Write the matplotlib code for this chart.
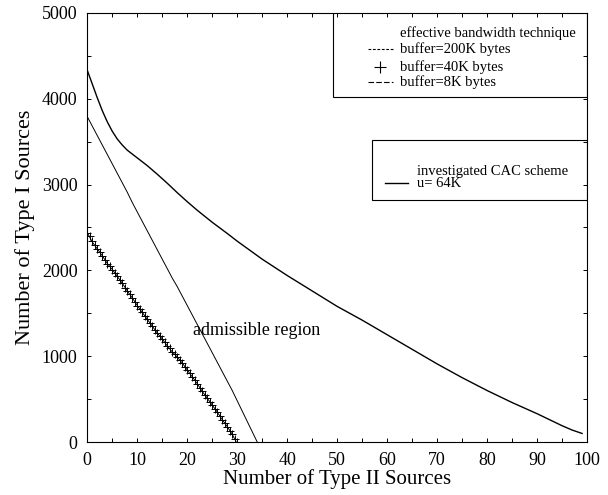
import matplotlib
matplotlib.use("Agg")
import matplotlib.pyplot as plt
from matplotlib.lines import Line2D
from matplotlib.patches import Rectangle
from matplotlib.ticker import MultipleLocator

plt.rcParams['font.family'] = ['Liberation Serif', 'DejaVu Serif']

# investigated CAC scheme, u = 64K
cac_x = [0, 1, 2, 3, 4, 5, 6, 7, 8, 10, 12, 14, 16, 18, 20, 22, 25, 28, 30,
         35, 40, 45, 50, 55, 60, 65, 70, 75, 80, 85, 90, 95, 97, 99]
cac_y = [4330, 4170, 4010, 3860, 3730, 3620, 3530, 3460, 3400, 3310, 3220,
         3120, 3015, 2905, 2800, 2700, 2560, 2430, 2340, 2130, 1940, 1760,
         1580, 1420, 1250, 1080, 910, 750, 600, 460, 330, 190, 140, 100]

# effective bandwidth, buffer = 200K bytes
eb200_x = list(range(0, 35))
eb200_y = [3790, 3680, 3570, 3460, 3350, 3240, 3130, 3020, 2910, 2790, 2680,
           2570, 2460, 2350, 2240, 2130, 2020, 1910, 1810, 1700, 1590, 1480,
           1370, 1260, 1150, 1040, 930, 820, 710, 600, 480, 360, 240, 120, 0]

# effective bandwidth, buffer = 8K bytes
eb8_x = list(range(0, 30)) + [29.8]
eb8_y = [2440, 2330, 2250, 2170, 2080, 2010, 1930, 1850, 1760, 1680, 1590,
         1510, 1430, 1350, 1270, 1200, 1120, 1050, 990, 920, 840, 760, 680,
         590, 510, 430, 350, 260, 180, 90, 0]

# effective bandwidth, buffer = 40K bytes
eb40_x = [i * 0.5 for i in range(60)]
eb40_y = [2440, 2400, 2340, 2290, 2250, 2210, 2170, 2120, 2080, 2050,
          2010, 1970, 1930, 1890, 1850, 1800, 1760, 1720, 1680, 1630,
          1590, 1550, 1510, 1470, 1430, 1390, 1350, 1310, 1270, 1240,
          1200, 1160, 1120, 1090, 1050, 1020, 990, 950, 920, 880,
          840, 800, 760, 720, 680, 630, 590, 550, 510, 470,
          430, 390, 350, 300, 260, 220, 180, 130, 90, 40]

fig = plt.figure(figsize=(6.08, 4.95), dpi=100)
ax = fig.add_axes([0.1436, 0.107, 0.822, 0.867])

ax.plot(cac_x, cac_y, color='black', lw=1.0)
ax.plot(eb200_x, eb200_y, color='black', lw=0.7)
ax.plot(eb8_x, eb8_y, color='black', lw=0.7)
ax.plot(eb40_x, eb40_y, ls='none', marker='+', ms=6, mew=0.7, color='black')

ax.set_xlim(0, 100)
ax.set_ylim(0, 5000)
ax.xaxis.set_major_locator(MultipleLocator(10))
ax.xaxis.set_minor_locator(MultipleLocator(5))
ax.yaxis.set_major_locator(MultipleLocator(1000))
ax.yaxis.set_minor_locator(MultipleLocator(500))
ax.tick_params(which='both', direction='in', top=True, right=True,
               length=3, width=0.7, labelsize=13, pad=7)
for s in ax.spines.values():
    s.set_linewidth(0.8)

ax.set_xlabel('Number of Type II Sources', fontsize=15, labelpad=0)
ax.set_ylabel('Number of Type I Sources', fontsize=16, labelpad=5)

ax.text(21.2, 1304, 'admissible region', fontsize=13, va='center', ha='left')

# legend boxes
tr = ax.transAxes
ax.add_patch(Rectangle((0.491, 0.8036), 0.509, 0.2, transform=tr,
                       fill=False, lw=0.8, ec='black'))
ax.text(0.626, 0.954, 'effective bandwidth technique', transform=tr,
        fontsize=10.5, va='center')
rows = [(0.915, 'buffer=200K bytes'), (0.874, 'buffer=40K bytes'),
        (0.839, 'buffer=8K bytes')]
for yy, lab in rows:
    ax.text(0.626, yy, lab, transform=tr, fontsize=10.5, va='center')
ax.add_line(Line2D([0.562, 0.611], [0.915, 0.915], transform=tr, color='black',
                   lw=0.8, dashes=(2.5, 1.5)))
ax.add_line(Line2D([0.585], [0.874], transform=tr, color='black', marker='+',
                   ms=8, mew=0.8))
ax.add_line(Line2D([0.562, 0.611], [0.839, 0.839], transform=tr, color='black',
                   lw=0.8, dashes=(5, 2)))

ax.add_patch(Rectangle((0.569, 0.565), 0.431, 0.138, transform=tr,
                       fill=False, lw=0.8, ec='black'))
ax.text(0.659, 0.631, 'investigated CAC scheme', transform=tr, fontsize=10.5,
        va='center')
ax.text(0.659, 0.603, 'u= 64K', transform=tr, fontsize=10.5, va='center')
ax.add_line(Line2D([0.595, 0.641], [0.603, 0.603], transform=tr,
                   color='black', lw=1.0))

fig.savefig('out.png', dpi=100)
